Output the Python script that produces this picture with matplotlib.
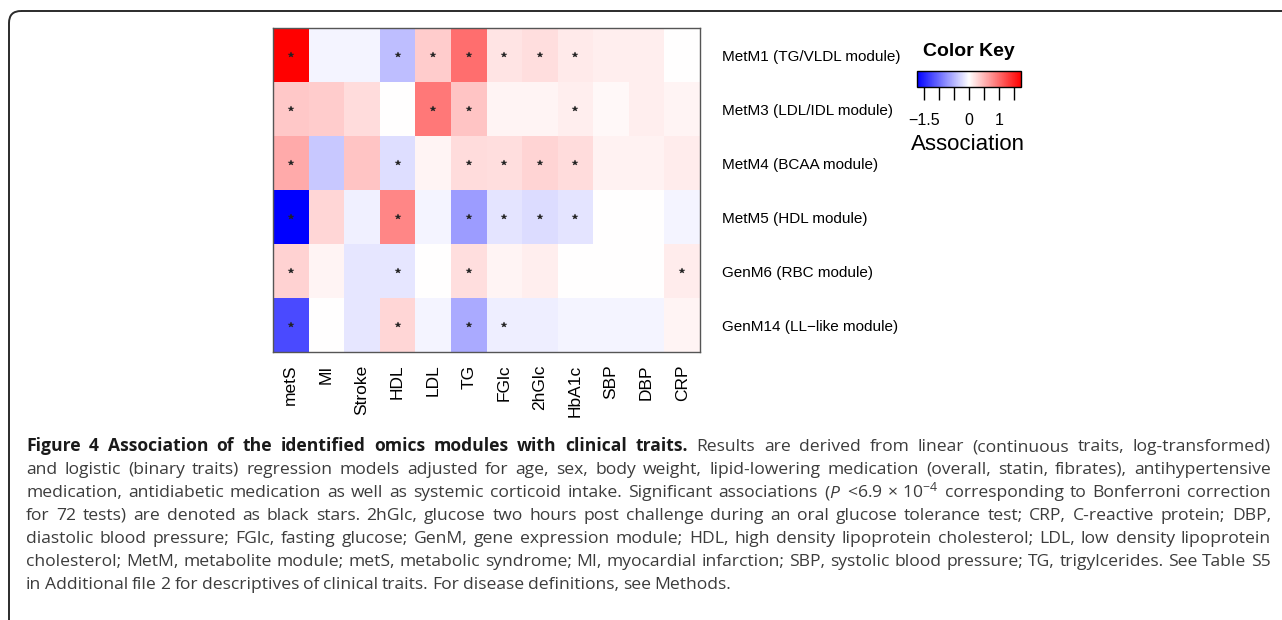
import matplotlib
matplotlib.use("Agg")
import matplotlib.pyplot as plt
import numpy as np
from matplotlib.patches import FancyBboxPatch
from matplotlib.transforms import Affine2D

# ---- data -------------------------------------------------------------
traits = ["metS", "MI", "Stroke", "HDL", "LDL", "TG", "FGlc", "2hGlc",
          "HbA1c", "SBP", "DBP", "CRP"]
modules = ["MetM1 (TG/VLDL module)", "MetM3 (LDL/IDL module)",
           "MetM4 (BCAA module)", "MetM5 (HDL module)",
           "GenM6 (RBC module)", "GenM14 (LL\u2212like module)"]

assoc_metm1 = [1.72, -0.07, -0.07, -0.44, 0.34, 0.98, 0.18, 0.22, 0.14, 0.11, 0.11, 0.00]
assoc_metm3 = [0.37, 0.34, 0.24, 0.00, 0.91, 0.40, 0.07, 0.07, 0.11, 0.05, 0.11, 0.07]
assoc_metm4 = [0.57, -0.37, 0.40, -0.22, 0.07, 0.24, 0.22, 0.29, 0.24, 0.09, 0.09, 0.13]
assoc_metm5 = [-1.72, 0.27, -0.10, 0.81, -0.07, -0.67, -0.18, -0.24, -0.18, 0.00, 0.00, -0.07]
assoc_genm6 = [0.30, 0.07, -0.17, -0.17, 0.00, 0.22, 0.07, 0.11, 0.00, 0.00, 0.00, 0.13]
assoc_genm14 = [-1.22, 0.00, -0.17, 0.27, -0.07, -0.57, -0.11, -0.11, -0.07, -0.07, -0.07, 0.07]

# significant (Bonferroni) cells, per module
signif_metm1 = ["metS", "HDL", "LDL", "TG", "FGlc", "2hGlc", "HbA1c"]
signif_metm3 = ["metS", "LDL", "TG", "HbA1c"]
signif_metm4 = ["metS", "HDL", "TG", "FGlc", "2hGlc", "HbA1c"]
signif_metm5 = ["metS", "HDL", "TG", "FGlc", "2hGlc", "HbA1c"]
signif_genm6 = ["metS", "HDL", "TG", "CRP"]
signif_genm14 = ["metS", "HDL", "TG", "FGlc"]

key_ticks = [-1.5, -1.0, -0.5, 0.0, 0.5, 1.0, 1.5]
key_labels = ["\u22121.5", "", "", "0", "", "1", ""]
key_lim = 1.72

caption = [
    [("Figure 4 Association of the identified omics modules with clinical traits.", "bold"),
     ("Results are derived from linear (continuous traits, log-transformed)", "normal")],
    [("and logistic (binary traits) regression models adjusted for age, sex, body weight, "
      "lipid-lowering medication (overall, statin, fibrates), antihypertensive", "normal")],
    [("medication, antidiabetic medication as well as systemic corticoid intake. Significant "
      "associations ($P$ <6.9$\\,\\times\\,$10$^{-4}$ corresponding to Bonferroni correction", "normal")],
    [("for 72 tests) are denoted as black stars. 2hGlc, glucose two hours post challenge "
      "during an oral glucose tolerance test; CRP, C-reactive protein; DBP,", "normal")],
    [("diastolic blood pressure; FGlc, fasting glucose; GenM, gene expression module; HDL, "
      "high density lipoprotein cholesterol; LDL, low density lipoprotein", "normal")],
    [("cholesterol; MetM, metabolite module; metS, metabolic syndrome; MI, myocardial "
      "infarction; SBP, systolic blood pressure; TG, trigylcerides. See Table S5", "normal")],
    [("in Additional file 2 for descriptives of clinical traits. For disease definitions, "
      "see Methods.", "normal")],
]

# ---- figure -----------------------------------------------------------
W, H = 1282, 620
plt.rcParams["mathtext.fontset"] = "custom"
plt.rcParams["mathtext.rm"] = "Open Sans"
plt.rcParams["mathtext.it"] = "Open Sans:italic"
fig = plt.figure(figsize=(W / 100, H / 100), dpi=100)
px = Affine2D().scale(1 / W, -1 / H).translate(0, 1) + fig.transFigure

# outer rounded frame (clipped at right/bottom like the page crop)
frame = FancyBboxPatch((9, 11), W + 40, H + 40, boxstyle="round,pad=0,rounding_size=12",
                       transform=px, fill=False, edgecolor="#2b2b2b", linewidth=1.4)
fig.patches.append(frame)

# heatmap
data = np.array([assoc_metm1, assoc_metm3, assoc_metm4, assoc_metm5, assoc_genm6, assoc_genm14])
signif = [signif_metm1, signif_metm3, signif_metm4, signif_metm5, signif_genm6, signif_genm14]

ax = fig.add_axes([273 / W, 1 - 352 / H, (700 - 273) / W, (352 - 28) / H])
mesh = ax.pcolormesh(np.arange(len(traits) + 1), np.arange(len(modules) + 1), data,
                     cmap="bwr", vmin=-key_lim, vmax=key_lim)
ax.set_xlim(0, len(traits))
ax.set_ylim(len(modules), 0)
for i, stars in enumerate(signif):
    for t in stars:
        j = traits.index(t)
        ax.plot(j + 0.5, i + 0.5, marker="*", color="#222222", markersize=4,
                markeredgewidth=0.3, linestyle="none")

ax.set_xticks(np.arange(len(traits)) + 0.5)
ax.set_xticklabels(traits, rotation=90, fontsize=12.5, family="Liberation Sans", va="top")
ax.set_yticks(np.arange(len(modules)) + 0.5)
ax.set_yticklabels(modules, fontsize=11, family="Liberation Sans")
ax.yaxis.tick_right()
ax.tick_params(axis="x", length=0, pad=9)
ax.tick_params(axis="y", length=0, pad=15.5)
for lbl in ax.get_yticklabels():
    lbl.set_y(lbl.get_position()[1])
for s in ax.spines.values():
    s.set_edgecolor("#555555")
    s.set_linewidth(1.0)

# color key
cax = fig.add_axes([917 / W, 1 - 87 / H, 104 / W, 16 / H])
cb = fig.colorbar(mesh, cax=cax, orientation="horizontal", ticks=key_ticks)
cb.ax.set_xticklabels(key_labels, fontsize=11.5, family="Liberation Sans")
cb.ax.tick_params(axis="x", length=9, width=1, pad=10, color="black")
cb.outline.set_linewidth(1.0)
cb.outline.set_edgecolor("black")
fig.text(969, 52, "Color Key", transform=px, ha="center", va="center",
         fontsize=14, fontweight="bold", family="Liberation Sans")
fig.text(968, 144, "Association", transform=px, ha="center", va="center",
         fontsize=16, family="Liberation Sans")

# caption, justified word by word
renderer = fig.canvas.get_renderer()
x0, x1 = 26, 1271
y_base = 451
step = 23
fs = 12.6
for li, segs in enumerate(caption):
    words = []
    for txt, wt in segs:
        for w in txt.split(" "):
            words.append((w, wt))
    arts = []
    for w, wt in words:
        col = "#1a1a1a" if wt == "bold" else "#3c3c3c"
        t = fig.text(0, y_base + li * step, w, transform=px, fontsize=fs,
                     family="Open Sans", fontweight=wt, color=col, va="baseline", ha="left")
        arts.append(t)
    widths = [a.get_window_extent(renderer).width for a in arts]
    if li == len(caption) - 1:
        gap = fs * 0.3
    else:
        gap = (x1 - x0 - sum(widths)) / (len(arts) - 1)
    x = x0
    for a, wdt in zip(arts, widths):
        a.set_x(x)
        x += wdt + gap

fig.savefig("out.png", dpi=100)
